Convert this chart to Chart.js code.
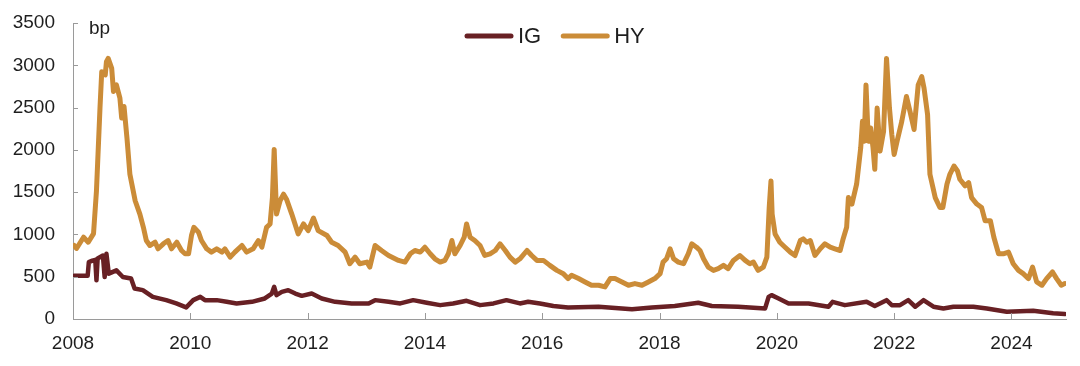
<!DOCTYPE html>
<html>
<head>
<meta charset="utf-8">
<script src="https://cdn.jsdelivr.net/npm/chart.js@4.4.1/dist/chart.umd.min.js"></script>
<style>
  html, body { margin: 0; padding: 0; background: #fff; }
  #wrap { width: 1080px; height: 366px; position: relative; }
</style>
</head>
<body>
<div id="wrap"><canvas id="mycanvas" width="1080" height="366"></canvas></div>
<script>
// spreads in bp, x = decimal year
var hyYears = [
    2008.02, 2008.06, 2008.18, 2008.26, 2008.35, 2008.40, 2008.46, 2008.49, 2008.55, 2008.57,
    2008.60, 2008.66, 2008.69, 2008.74, 2008.80, 2008.83, 2008.87, 2008.92, 2008.97, 2009.06,
    2009.14, 2009.20, 2009.25, 2009.31, 2009.40, 2009.45, 2009.54, 2009.62, 2009.68, 2009.77,
    2009.85, 2009.91, 2009.97, 2010.02, 2010.06, 2010.14, 2010.19, 2010.28, 2010.36, 2010.45,
    2010.54, 2010.59, 2010.68, 2010.76, 2010.88, 2010.96, 2011.07, 2011.16, 2011.22, 2011.30,
    2011.36, 2011.40, 2011.43, 2011.47, 2011.53, 2011.59, 2011.64, 2011.73, 2011.84, 2011.93,
    2012.01, 2012.10, 2012.18, 2012.33, 2012.41, 2012.52, 2012.64, 2012.72, 2012.81, 2012.89,
    2013.01, 2013.06, 2013.15, 2013.26, 2013.38, 2013.55, 2013.66, 2013.75, 2013.83, 2013.92,
    2014.00, 2014.09, 2014.17, 2014.26, 2014.34, 2014.40, 2014.46, 2014.51, 2014.60, 2014.67,
    2014.71, 2014.77, 2014.85, 2014.94, 2015.02, 2015.11, 2015.20, 2015.28, 2015.37, 2015.45,
    2015.54, 2015.62, 2015.74, 2015.82, 2015.91, 2016.02, 2016.13, 2016.25, 2016.36, 2016.44,
    2016.50, 2016.62, 2016.73, 2016.84, 2016.96, 2017.07, 2017.16, 2017.24, 2017.36, 2017.47,
    2017.58, 2017.70, 2017.81, 2017.92, 2018.01, 2018.06, 2018.12, 2018.18, 2018.24, 2018.32,
    2018.41, 2018.49, 2018.55, 2018.63, 2018.69, 2018.75, 2018.83, 2018.92, 2019.00, 2019.09,
    2019.17, 2019.26, 2019.37, 2019.46, 2019.54, 2019.60, 2019.68, 2019.77, 2019.83, 2019.87,
    2019.90, 2019.92, 2019.97, 2020.05, 2020.14, 2020.23, 2020.31, 2020.40, 2020.45, 2020.51,
    2020.57, 2020.65, 2020.74, 2020.82, 2020.91, 2020.99, 2021.08, 2021.13, 2021.19, 2021.22,
    2021.28, 2021.36, 2021.43, 2021.46, 2021.49, 2021.52, 2021.56, 2021.60, 2021.64, 2021.67,
    2021.71, 2021.76, 2021.82, 2021.87, 2021.92, 2021.96, 2022.00, 2022.05, 2022.13, 2022.21,
    2022.27, 2022.34, 2022.41, 2022.47, 2022.51, 2022.57, 2022.61, 2022.70, 2022.78, 2022.83,
    2022.90, 2022.95, 2023.02, 2023.08, 2023.12, 2023.21, 2023.27, 2023.32, 2023.41, 2023.49,
    2023.55, 2023.64, 2023.70, 2023.78, 2023.86, 2023.95, 2024.03, 2024.12, 2024.20, 2024.29,
    2024.36, 2024.43, 2024.52, 2024.60, 2024.70, 2024.77, 2024.85, 2024.91
];
var hyValues = [
    869, 834, 967, 908, 1010, 1515, 2494, 2925, 2886, 3042,
    3081, 2963, 2690, 2768, 2611, 2376, 2513, 2141, 1711, 1398,
    1241, 1084, 928, 869, 908, 830, 889, 928, 830, 908,
    810, 771, 771, 987, 1084, 1026, 928, 830, 791, 830,
    791, 830, 732, 791, 869, 791, 830, 928, 849, 1084,
    1124, 1436, 2005, 1241, 1398, 1476, 1417, 1241, 1006, 1124,
    1045, 1194, 1045, 987, 908, 869, 791, 654, 732, 654,
    673, 614, 869, 810, 751, 693, 673, 771, 810, 791,
    849, 771, 712, 673, 693, 771, 928, 771, 869, 967,
    1124, 967, 928, 869, 751, 771, 810, 889, 810, 732,
    673, 712, 810, 751, 693, 693, 634, 575, 536, 478,
    517, 478, 438, 399, 399, 380, 478, 478, 438, 399,
    419, 399, 438, 478, 536, 673, 712, 830, 712, 673,
    654, 771, 889, 849, 810, 712, 614, 575, 595, 634,
    595, 693, 751, 693, 654, 673, 575, 614, 732, 1319,
    1633, 1241, 1006, 908, 849, 791, 751, 928, 947, 908,
    928, 751, 830, 889, 849, 830, 810, 947, 1084, 1436,
    1359, 1594, 2024, 2337, 2102, 2768, 2102, 2259, 2024, 1770,
    2494, 1985, 2220, 3081, 2494, 2181, 1946, 2102, 2337, 2631,
    2455, 2240, 2768, 2866, 2729, 2416, 1711, 1436, 1319, 1319,
    1594, 1711, 1809, 1750, 1652, 1574, 1613, 1436, 1359, 1319,
    1163, 1163, 967, 771, 771, 791, 654, 575, 536, 478,
    614, 438, 399, 478, 556, 478, 399, 419
];

var igYears = [
    2008.02, 2008.25, 2008.27, 2008.33, 2008.38, 2008.40, 2008.42, 2008.51, 2008.54, 2008.57,
    2008.61, 2008.74, 2008.85, 2008.99, 2009.05, 2009.19, 2009.36, 2009.59, 2009.76, 2009.93,
    2010.05, 2010.17, 2010.25, 2010.45, 2010.62, 2010.79,
    2011.05, 2011.27, 2011.39, 2011.43, 2011.47, 2011.56, 2011.67, 2011.79, 2011.90, 2012.07,
    2012.24, 2012.47, 2012.75, 2013.04, 2013.15, 2013.38, 2013.58, 2013.80, 2014.03, 2014.26,
    2014.48, 2014.71, 2014.94, 2015.17, 2015.39, 2015.62, 2015.76, 2015.96, 2016.19, 2016.44,
    2016.96, 2017.53, 2017.87, 2018.26, 2018.66, 2018.89, 2019.34, 2019.80, 2019.86, 2019.91,
    2020.03, 2020.20, 2020.54, 2020.88, 2020.95, 2021.16, 2021.53, 2021.67, 2021.87, 2021.96,
    2022.10, 2022.24, 2022.36, 2022.50, 2022.67, 2022.84, 2023.01, 2023.35, 2023.58, 2023.92,
    2024.37, 2024.71, 2024.91
];
var igValues = [
    510, 510, 673, 690, 700, 458, 716, 751, 497, 771,
    536, 575, 497, 478, 360, 341, 262, 223, 184, 137,
    223, 262, 223, 223, 203, 184,
    203, 243, 301, 380, 282, 321, 341, 301, 274, 301,
    243, 203, 184, 184, 223, 203, 184, 223, 192, 164,
    184, 215, 164, 184, 223, 184, 203, 184, 153, 137,
    145, 114, 137, 153, 192, 153, 145, 125, 262, 282,
    243, 184, 184, 145, 203, 164, 203, 153, 223, 164,
    164, 223, 145, 223, 145, 125, 145, 145, 125, 86,
    98, 67, 59
];

var yTicks = [0, 500, 1000, 1500, 2000, 2500, 3000, 3500];
var xTicks = [2008, 2010, 2012, 2014, 2016, 2018, 2020, 2022, 2024];

var igColor = "rgb(104, 32, 36)";
var hyColor = "rgb(203, 140, 56)";
var axisColor = "#9a9a9a";
var textColor = "#1e1e1e";
var fontFamily = "'Liberation Sans', Arial, sans-serif";

function toPoints(xs, ys) {
    var pts = [];
    for (var i = 0; i < xs.length; i++) {
        pts.push({ x: xs[i], y: ys[i] });
    }
    return pts;
}

// little inward tick marks, "bp" unit label and the legend
var decorations = {
    id: "decorations",
    afterDraw: function(chart) {
        var ctx = chart.ctx;
        var area = chart.chartArea;
        var xs = chart.scales.x;
        var ys = chart.scales.y;
        ctx.save();
        ctx.strokeStyle = axisColor;
        ctx.lineWidth = 1;
        ctx.beginPath();
        yTicks.forEach(function(v) {
            var py = Math.round(ys.getPixelForValue(v)) + 0.5;
            ctx.moveTo(area.left, py);
            ctx.lineTo(area.left + 5, py);
        });
        xTicks.forEach(function(v) {
            var px = Math.round(xs.getPixelForValue(v)) + 0.5;
            ctx.moveTo(px, area.bottom);
            ctx.lineTo(px, area.bottom - 6);
        });
        ctx.stroke();

        ctx.fillStyle = textColor;
        ctx.font = "19px " + fontFamily;
        ctx.textBaseline = "middle";
        ctx.fillText("bp", area.left + 16, area.top + 6);

        // legend
        var x = chart.width / 2 - 75;
        var y = area.top + 13;
        ctx.font = "22px " + fontFamily;
        ctx.lineCap = "round";
        chart.data.datasets.forEach(function(ds) {
            ctx.strokeStyle = ds.borderColor;
            ctx.lineWidth = 5;
            ctx.beginPath();
            ctx.moveTo(x + 2, y);
            ctx.lineTo(x + 46, y);
            ctx.stroke();
            ctx.fillStyle = textColor;
            ctx.fillText(ds.label, x + 53, y + 1);
            x += 53 + ctx.measureText(ds.label).width + 20;
        });
        ctx.restore();
    }
};

var ctx = document.getElementById("mycanvas");

var chart = new Chart(ctx, {
    type: "line",
    data: {
        datasets: [{
            label: "IG",
            data: toPoints(igYears, igValues),
            borderColor: igColor,
            backgroundColor: igColor,
            borderWidth: 4.5,
            borderCapStyle: "round",
            borderJoinStyle: "round",
            pointRadius: 0,
            tension: 0
        }, {
            label: "HY",
            data: toPoints(hyYears, hyValues),
            borderColor: hyColor,
            backgroundColor: hyColor,
            borderWidth: 5,
            borderCapStyle: "round",
            borderJoinStyle: "round",
            pointRadius: 0,
            tension: 0
        }]
    },
    plugins: [decorations],
    options: {
        responsive: false,
        animation: false,
        events: [],
        layout: { padding: { top: 23, right: 14, left: 0, bottom: 0 } },
        plugins: {
            tooltip: { enabled: false },
            legend: { display: false }
        },
        scales: {
            x: {
                type: "linear",
                min: 2008,
                max: 2024.93,
                afterBuildTicks: function(scale) {
                    scale.ticks = xTicks.map(function(v) { return { value: v }; });
                },
                afterFit: function(scale) {
                    scale.height = 47;
                    scale.paddingLeft = 0;
                    scale.paddingRight = 0;
                },
                grid: { display: false, drawTicks: false },
                border: { display: true, color: axisColor, width: 1 },
                ticks: {
                    color: textColor,
                    padding: 13,
                    maxRotation: 0,
                    font: { family: fontFamily, size: 19 },
                    callback: function(v) { return String(v); }
                }
            },
            y: {
                min: 0,
                max: 3500,
                afterBuildTicks: function(scale) {
                    scale.ticks = yTicks.map(function(v) { return { value: v }; });
                },
                afterFit: function(scale) {
                    scale.width = 73;
                    scale.paddingTop = 0;
                    scale.paddingBottom = 0;
                },
                grid: { display: false, drawTicks: false },
                border: { display: true, color: axisColor, width: 1 },
                ticks: {
                    color: textColor,
                    padding: 18,
                    font: { family: fontFamily, size: 19 },
                    callback: function(v) { return String(v); }
                }
            }
        }
    }
});
</script>
</body>
</html>
